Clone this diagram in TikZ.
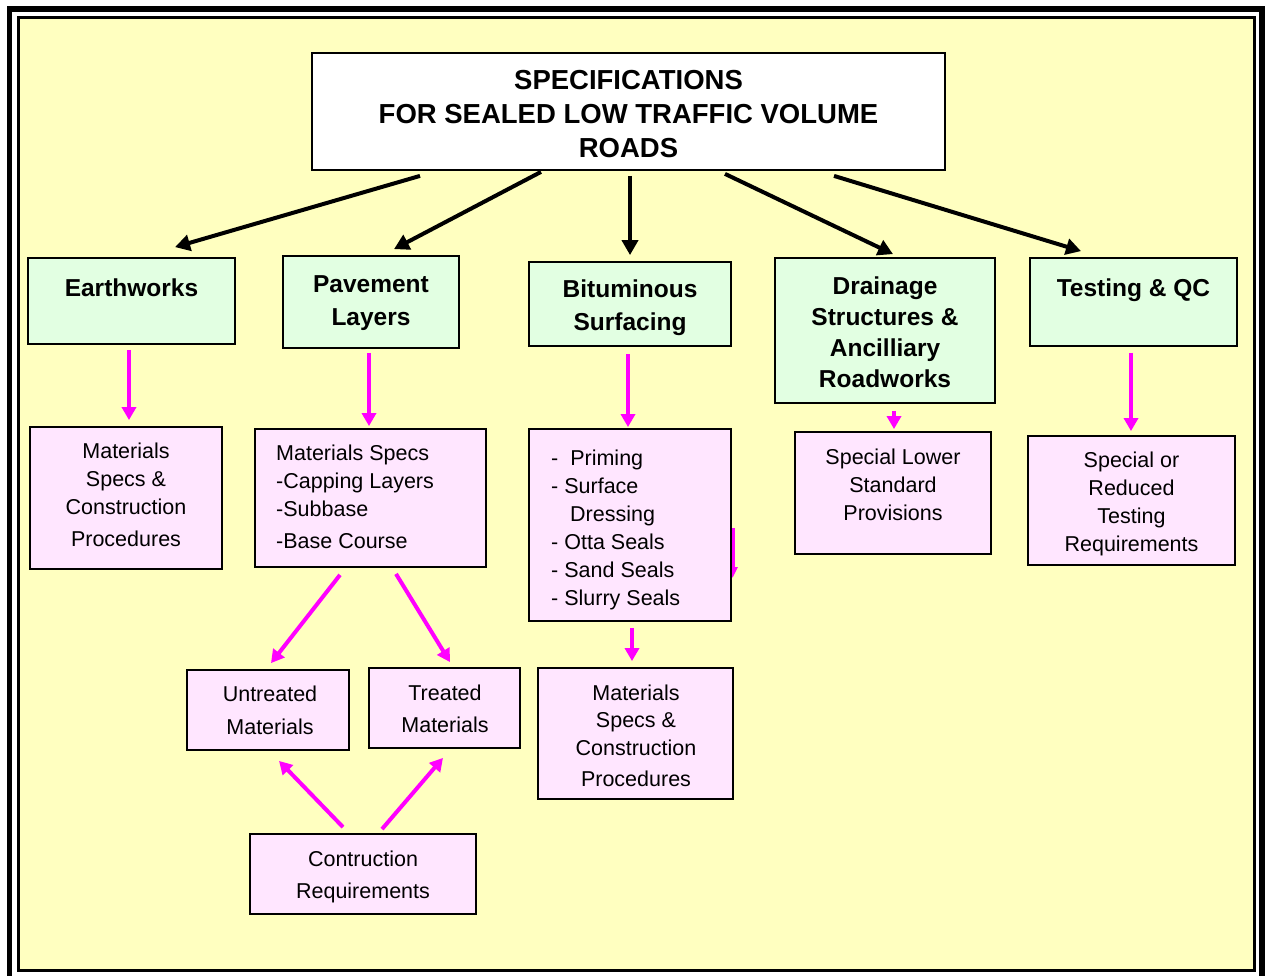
\documentclass[tikz,border=0pt]{standalone}
\usepackage{fontspec}
\setmainfont{Liberation Sans}
\usetikzlibrary{arrows.meta}

\definecolor{bgyellow}{RGB}{255,255,192}
\definecolor{boxgreen}{RGB}{226,255,226}
\definecolor{boxpink}{RGB}{255,230,255}
\definecolor{linkpink}{RGB}{255,0,255}

% text nodes are placed by the baseline of their last line
\tikzset{
  framebox/.style={draw=black, line width=1.8pt, inner sep=0pt},
  titlebox/.style={framebox, fill=white},
  topicbox/.style={framebox, fill=boxgreen},
  detailbox/.style={framebox, fill=boxpink},
  txt/.style={inner sep=0pt, anchor=base, align=center},
  titletxt/.style={txt, font=\fontsize{27.5}{34}\selectfont\bfseries},
  topictxt/.style={txt, font=\fontsize{24.5}{33}\selectfont\bfseries},
  detailtxt/.style={txt, font=\fontsize{21.5}{28}\selectfont},
  mainlink/.style={draw=black, line width=4pt, -{Triangle[length=15pt,width=16pt]}},
  sublink/.style={draw=linkpink, color=linkpink, line width=4pt, -{Triangle[length=13pt,width=14pt]}}
}

\begin{document}
\begin{tikzpicture}[x=1pt, y=-1pt]
\useasboundingbox (0,0) rectangle (1268,976);

% double frame and page background
\draw[line width=5.5pt] (9.5,9) rectangle (1262,995);
\draw[line width=3pt, fill=bgyellow] (18,17.5) rectangle (1254.5,970.5);

% stray connector partly covered by the surfacing list
\coordinate (strayA) at (732.5,528);
\coordinate (strayB) at (732.5,578);
\draw[sublink, -{Triangle[length=11pt,width=10pt]}] (strayA) -- (strayB);

% title
\node[titlebox, minimum width=633pt, minimum height=117pt] (title) at (628.5,111.5) {};
\node[titletxt] (titleT) at (628.5,158) {SPECIFICATIONS\\FOR SEALED LOW TRAFFIC VOLUME\\ROADS};

% topic boxes
\node[topicbox, minimum width=207pt, minimum height=86pt] (earth) at (131.5,301) {};
\node[topictxt] (earthT) at (131.5,296) {Earthworks};

\node[topicbox, minimum width=176pt, minimum height=92pt] (pave) at (371,302) {};
\node[topictxt] (paveT) at (371,325) {Pavement\\Layers};

\node[topicbox, minimum width=202pt, minimum height=84pt] (bitum) at (630,304) {};
\node[topictxt] (bitumT) at (630,330) {Bituminous\\Surfacing};

\node[topicbox, minimum width=220pt, minimum height=145pt] (drain) at (885,330.5) {};
\node[topictxt, font=\fontsize{24.5}{31}\selectfont\bfseries] (drainT) at (885,387) {Drainage\\Structures \&\\Ancilliary\\Roadworks};

\node[topicbox, minimum width=207pt, minimum height=88pt] (test) at (1133.5,302) {};
\node[topictxt] (testT) at (1133.5,296) {Testing \& QC};

% detail boxes
\node[detailbox, minimum width=192pt, minimum height=142pt] (earthM) at (126,498) {};
\node[detailtxt] (earthMT) at (126,546) {Materials\\Specs \&\\Construction\\[4pt]Procedures};

\node[detailbox, minimum width=231pt, minimum height=138pt] (paveM) at (370.5,498) {};
\node[detailtxt, anchor=base west, align=left] (paveMT) at (276,548) {Materials Specs\\-Capping Layers\\-Subbase\\[4pt]-Base Course};

\node[detailbox, minimum width=202pt, minimum height=192pt] (bitumL) at (630,525) {};
\node[detailtxt, anchor=base west, align=left] (bitumLT) at (551,605) {-\ \ Priming\\- Surface\\\hspace*{19pt}Dressing\\- Otta Seals\\- Sand Seals\\- Slurry Seals};

\node[detailbox, minimum width=196pt, minimum height=122pt] (drainS) at (893,493) {};
\node[detailtxt] (drainST) at (893,520) {Special Lower\\Standard\\Provisions};

\node[detailbox, minimum width=207pt, minimum height=129pt] (testS) at (1131.5,500.5) {};
\node[detailtxt, font=\fontsize{21.5}{27.7}\selectfont] (testST) at (1131.5,551) {Special or\\Reduced\\Testing\\Requirements};

\node[detailbox, minimum width=162pt, minimum height=80pt] (untr) at (268,710) {};
\node[detailtxt, font=\fontsize{21.5}{33}\selectfont] (untrT) at (270,734) {Untreated\\Materials};

\node[detailbox, minimum width=151pt, minimum height=80pt] (treat) at (444.5,708) {};
\node[detailtxt, font=\fontsize{21.5}{32}\selectfont] (treatT) at (445,732) {Treated\\Materials};

\node[detailbox, minimum width=195pt, minimum height=131pt] (bitumM) at (635.5,733.5) {};
\node[detailtxt, font=\fontsize{21.5}{27.5}\selectfont] (bitumMT) at (636,786.5) {Materials\\Specs \&\\Construction\\[4pt]Procedures};

\node[detailbox, minimum width=226pt, minimum height=80pt] (constr) at (363,874) {};
\node[detailtxt, font=\fontsize{21.5}{32}\selectfont] (constrT) at (363,898) {Contruction\\Requirements};

% title to topics
\draw[mainlink] ([shift={(-208.5,5)}]title.south) -- ([shift={(43.5,-10)}]earth.north);
\draw[mainlink] ([shift={(-87.5,1)}]title.south) -- ([shift={(23,-6)}]pave.north);
\draw[mainlink] ([shift={(1.5,5)}]title.south) -- ([shift={(0,-6)}]bitum.north);
\draw[mainlink] ([shift={(96.5,3)}]title.south) -- ([shift={(8,-3)}]drain.north);
\draw[mainlink] ([shift={(205.5,5)}]title.south) -- ([shift={(-52.5,-6)}]test.north);

% topics to details
\draw[sublink] ([shift={(-2.5,5)}]earth.south) -- ([shift={(3,-6)}]earthM.north);
\draw[sublink] ([shift={(-2,4)}]pave.south) -- ([shift={(-1.5,-2)}]paveM.north);
\draw[sublink] ([shift={(-2,7)}]bitum.south) -- ([shift={(-2,-1)}]bitumL.north);
\draw[sublink] ([shift={(9,7)}]drain.south) -- ([shift={(1,-2)}]drainS.north);
\draw[sublink] ([shift={(-2.5,6)}]test.south) -- ([shift={(-0.5,-4)}]testS.north);

% pavement layer branches
\draw[sublink] ([shift={(-30.5,7)}]paveM.south) -- ([shift={(3,-6)}]untr.north);
\draw[sublink] ([shift={(25.5,6)}]paveM.south) -- ([shift={(5.5,-5)}]treat.north);
\draw[sublink] ([shift={(-20,-6)}]constr.north) -- ([shift={(11,10)}]untr.south);
\draw[sublink] ([shift={(19,-4)}]constr.north) -- ([shift={(-1.5,9)}]treat.south);

% surfacing list to its specifications
\draw[sublink] ([shift={(2,6)}]bitumL.south) -- ([shift={(-3.5,-6)}]bitumM.north);
\end{tikzpicture}
\end{document}
